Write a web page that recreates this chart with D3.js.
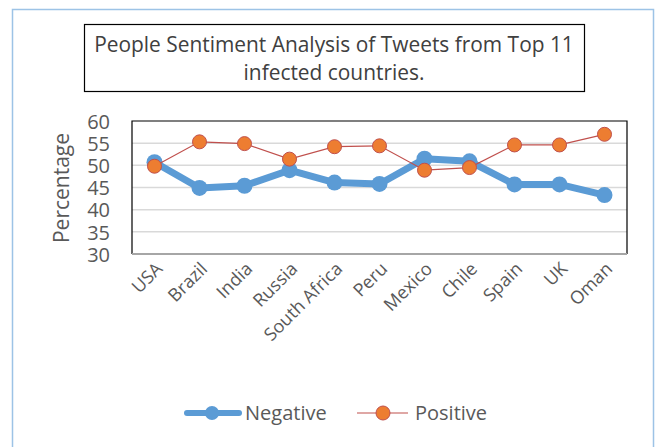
<!DOCTYPE html>
<meta charset="utf-8">
<style>
  body { margin: 0; background: #fff; }
  text { font-family: "Open Sans", "Liberation Sans", sans-serif; fill: #595959; }
</style>
<body>
<script src="https://d3js.org/d3.v7.min.js"></script>
<script>
// data
var countries = ["USA", "Brazil", "India", "Russia", "South Africa", "Peru", "Mexico", "Chile", "Spain", "UK", "Oman"];
var negative = [50.7, 44.9, 45.4, 48.9, 46.1, 45.8, 51.5, 50.9, 45.7, 45.7, 43.3];
var positive = [49.8, 55.3, 54.9, 51.4, 54.2, 54.4, 48.9, 49.5, 54.6, 54.6, 57.0];
var yTicks = [30, 35, 40, 45, 50, 55, 60];

var W = 656, H = 447;
var svg = d3.select("body").append("svg").attr("width", W).attr("height", H);

// outer frame
svg.append("rect").attr("x", 12.5).attr("y", 9.5).attr("width", 641).attr("height", 460)
   .attr("fill", "#fff").attr("stroke", "#9dc3e6").attr("stroke-width", 1.5);

// title box
svg.append("rect").attr("x", 84.5).attr("y", 24.5).attr("width", 500).attr("height", 67)
   .attr("fill", "#fff").attr("stroke", "#000").attr("stroke-width", 1.2);
var t1 = svg.append("text").attr("x", 334).attr("y", 52).attr("text-anchor", "middle")
   .style("font-size", "20px").style("fill", "#404040")
   .text("People Sentiment Analysis of Tweets from Top 11");
// scale the font so the first line spans about 480px like the reference
var fs = 20 * 480 / t1.node().getComputedTextLength();
t1.style("font-size", fs + "px");
svg.append("text").attr("x", 334).attr("y", 80).attr("text-anchor", "middle")
   .style("font-size", fs + "px").style("fill", "#404040")
   .text("infected countries.");

var pLeft = 132, pTop = 121, pRight = 627, pBottom = 254;

var x = d3.scaleBand().domain(countries).range([pLeft, pRight]);
var y = d3.scaleLinear().domain([30, 60]).range([pBottom, pTop]);

// gridlines
svg.append("g").selectAll("line").data(yTicks.slice(1, -1)).enter().append("line")
   .attr("x1", pLeft).attr("x2", pRight)
   .attr("y1", function (d) { return y(d); }).attr("y2", function (d) { return y(d); })
   .attr("stroke", "#d9d9d9").attr("stroke-width", 1.5);

// plot border
svg.append("path")
   .attr("d", "M" + pLeft + "," + pBottom + "V" + pTop + "H" + pRight + "V" + pBottom)
   .attr("fill", "none").attr("stroke", "#000").attr("stroke-width", 1.2);
svg.append("line").attr("x1", pLeft).attr("x2", pRight).attr("y1", pBottom).attr("y2", pBottom)
   .attr("stroke", "#a6a6a6").attr("stroke-width", 2);

// y axis
var yAxis = svg.append("g").attr("transform", "translate(110,0)")
   .call(d3.axisLeft(y).tickValues(yTicks).tickSize(0).tickPadding(0));
yAxis.select(".domain").remove();
yAxis.selectAll("text").style("font-size", "20px").style("fill", "#595959")
   .attr("x", 0).attr("dy", "0.36em");

svg.append("text").attr("transform", "translate(69,188) rotate(-90)")
   .attr("text-anchor", "middle").style("font-size", "21px").text("Percentage");

// x axis
var xAxis = svg.append("g").attr("transform", "translate(0," + pBottom + ")")
   .call(d3.axisBottom(x).tickSize(0).tickPadding(0));
xAxis.select(".domain").remove();
xAxis.selectAll("text")
   .style("font-size", "18px").style("fill", "#595959")
   .attr("text-anchor", "end")
   .attr("dy", null).attr("y", 0)
   .attr("transform", "translate(9,16) rotate(-45)");

var cx = function (d, i) { return x(countries[i]) + x.bandwidth() / 2; };
var line = d3.line().x(function (d, i) { return cx(d, i); }).y(function (d) { return y(d); });

// negative series
svg.append("path").datum(negative).attr("d", line)
   .attr("fill", "none").attr("stroke", "#5b9bd5").attr("stroke-width", 7)
   .attr("stroke-linejoin", "round");
svg.append("g").selectAll("circle").data(negative).enter().append("circle")
   .attr("cx", cx).attr("cy", function (d) { return y(d); }).attr("r", 8)
   .attr("fill", "#5b9bd5");

// positive series
svg.append("path").datum(positive).attr("d", line)
   .attr("fill", "none").attr("stroke", "#c0504d").attr("stroke-width", 1.2);
svg.append("g").selectAll("circle").data(positive).enter().append("circle")
   .attr("cx", cx).attr("cy", function (d) { return y(d); }).attr("r", 7)
   .attr("fill", "#ed7d31").attr("stroke", "#c0504d").attr("stroke-width", 1);

// legend
var ly = 413;
svg.append("line").attr("x1", 187).attr("x2", 239).attr("y1", ly).attr("y2", ly)
   .attr("stroke", "#5b9bd5").attr("stroke-width", 6).attr("stroke-linecap", "round");
svg.append("circle").attr("cx", 212).attr("cy", ly).attr("r", 7).attr("fill", "#5b9bd5");
svg.append("text").attr("x", 245).attr("y", ly + 7).style("font-size", "20px").text("Negative");

svg.append("line").attr("x1", 357).attr("x2", 408).attr("y1", ly).attr("y2", ly)
   .attr("stroke", "#c0504d").attr("stroke-width", 1.2);
svg.append("circle").attr("cx", 383).attr("cy", ly).attr("r", 7)
   .attr("fill", "#ed7d31").attr("stroke", "#c0504d").attr("stroke-width", 1);
svg.append("text").attr("x", 415).attr("y", ly + 7).style("font-size", "20px").text("Positive");
</script>
</body>
